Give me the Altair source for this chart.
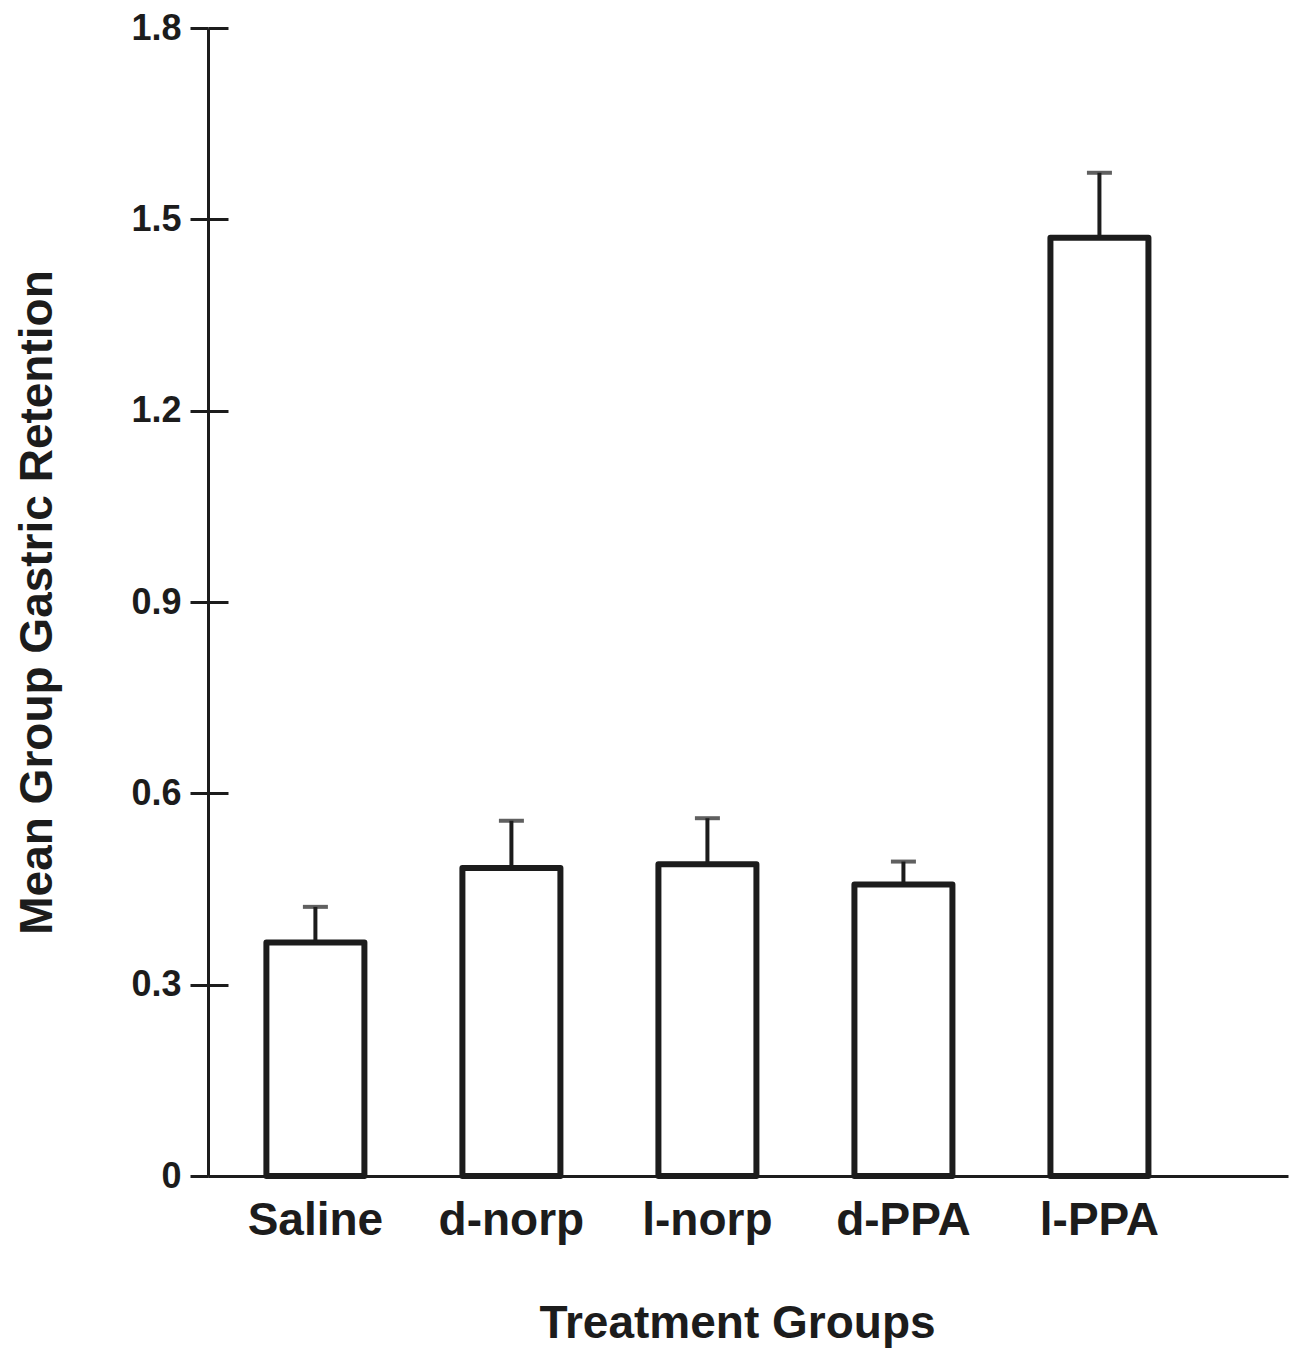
import altair as alt
import pandas as pd

# ---- data ----
groups = ["Saline", "d-norp", "l-norp", "d-PPA", "l-PPA"]
means = [0.366, 0.483, 0.489, 0.457, 1.471]
sems = [0.056, 0.074, 0.072, 0.036, 0.102]
y_ticks = [0, 0.3, 0.6, 0.9, 1.2, 1.5, 1.8]

df = pd.DataFrame({"group": groups, "mean": means, "sem": sems})
df["upper"] = df["mean"] + df["sem"]

INK = "#1c1c1c"
FONT = "Liberation Sans"
W, H = 1080, 1148

x_enc = alt.X(
    "group:N",
    sort=groups,
    scale=alt.Scale(paddingInner=0.5, paddingOuter=0.505, align=0.295),
    axis=alt.Axis(
        title="Treatment Groups",
        labelAngle=0,
        domain=True,
        domainColor=INK,
        domainWidth=3,
        ticks=False,
        tickSize=0,
        labelFont=FONT,
        labelFontSize=46,
        labelFontWeight="bold",
        labelColor=INK,
        labelPadding=22,
        titleFont=FONT,
        titleFontSize=46,
        titleFontWeight="bold",
        titleColor=INK,
        titlePadding=58,
        titleX=529,
        grid=False,
    ),
)

yscale = alt.Scale(domain=[0, 1.8], nice=False, zero=True)

bars = alt.Chart(df).mark_bar(
    fill="white", stroke=INK, strokeWidth=6, strokeJoin="round"
).encode(
    x=x_enc,
    y=alt.Y(
        "mean:Q",
        scale=yscale,
        axis=alt.Axis(
            title="Mean Group Gastric Retention",
            values=y_ticks,
            format="~g",
            grid=False,
            domain=True,
            domainColor=INK,
            domainWidth=3,
            ticks=True,
            tickSize=18,
            tickWidth=3,
            tickColor=INK,
            labelFont=FONT,
            labelFontSize=36,
            labelFontWeight="bold",
            labelColor=INK,
            labelPadding=9,
            titleFont=FONT,
            titleFontSize=46,
            titleFontWeight="bold",
            titleColor=INK,
            titlePadding=69,
        ),
    ),
)

# inner half of the crossing tick marks
err = alt.Chart(df).mark_rule(color=INK, strokeWidth=4).encode(
    x=x_enc,
    y=alt.Y(
        "mean:Q",
        scale=yscale,
        axis=alt.Axis(
            orient="right",
            offset=-W,
            values=y_ticks,
            labels=False,
            domain=False,
            grid=False,
            ticks=True,
            tickSize=20,
            tickWidth=3,
            tickColor=INK,
            title=None,
        ),
    ),
    y2="upper:Q",
)

caps = alt.Chart(df).mark_tick(color=INK, size=25, thickness=4).encode(
    x=x_enc,
    y=alt.Y("upper:Q", scale=yscale, axis=None),
)

chart = (
    alt.layer(bars, err, caps)
    .resolve_axis(y="independent")
    .properties(
        width=W,
        height=H,
        autosize=alt.AutoSizeParams(type="none"),
        padding={"left": 200, "top": 20, "right": 1, "bottom": 172},
        background="white",
    )
    .configure_view(stroke=None)
)

chart.save("out.html", embed_options={"renderer": "svg", "actions": False})
